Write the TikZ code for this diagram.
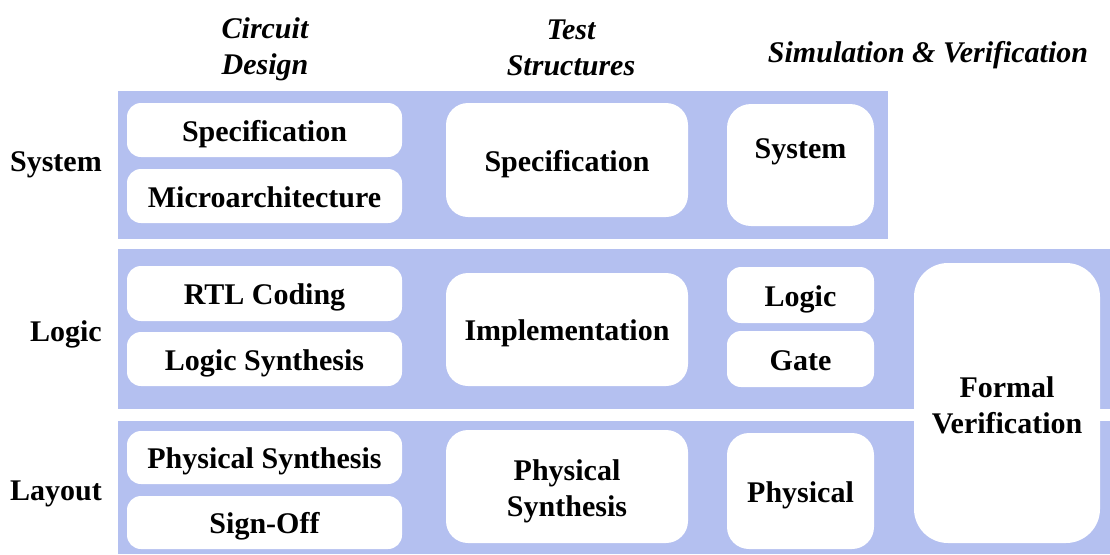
\documentclass[tikz,border=0pt]{standalone}
\usepackage{fontspec}
\setmainfont{Liberation Serif}
\definecolor{bandblue}{RGB}{180,192,240}
\tikzset{
  band/.style={fill=bandblue, draw=none},
  cell/.style={fill=white, draw=none, rounded corners=#1, inner sep=0pt,
    font=\bfseries\fontsize{30}{36}\selectfont, align=center},
  cell/.default=14pt,
  one/.style={text height=22pt, text depth=0pt},
  hdr/.style={font=\bfseries\itshape\fontsize{30}{36}\selectfont, align=center, inner sep=0pt},
  rowlbl/.style={font=\bfseries\fontsize{30}{36}\selectfont, anchor=base east, inner sep=0pt},
  txt/.style={font=\bfseries\fontsize{30}{36}\selectfont, anchor=base, inner sep=0pt}
}
\begin{document}
\begin{tikzpicture}[x=1pt, y=-1pt]
\useasboundingbox (0,0) rectangle (1110,554);

% column headings
\node[hdr] (hcd) at (265,49.5) {Circuit\\Design};
\node[hdr] (hts) at (571,48) {Test\\Structures};
\node[hdr, anchor=base] (hsv) at (928,62) {Simulation \& Verification};

% abstraction levels
\node[band, minimum width=770pt, minimum height=148pt, anchor=north west] (bsys) at (118,91) {};
\node[band, minimum width=992pt, minimum height=160pt, anchor=north west] (blog) at (118,249) {};
\node[band, minimum width=992pt, minimum height=133pt, anchor=north west] (blay) at (118,421) {};

\node[rowlbl] (lsys) at (102,171) {System};
\node[rowlbl] (llog) at (102,341) {Logic};
\node[rowlbl] (llay) at (102,500) {Layout};

% circuit design flow
\node[cell, one, minimum width=275pt, minimum height=54pt] (cdspec) at (264.5,130) {Specification};
\node[cell, one, minimum width=275pt, minimum height=54pt] (cdmicro) at (264.5,196) {Microarchitecture};
\node[cell, one, minimum width=275pt, minimum height=55pt] (cdrtl) at (264.5,293.5) {RTL Coding};
\node[cell, one, minimum width=275pt, minimum height=54pt] (cdlsyn) at (264.5,359) {Logic Synthesis};
\node[cell, one, minimum width=275pt, minimum height=53pt] (cdpsyn) at (264.5,457.5) {Physical Synthesis};
\node[cell, one, minimum width=275pt, minimum height=53pt] (cdsign) at (264.5,522.5) {Sign-Off};

% test structures
\node[cell=22pt, one, minimum width=242pt, minimum height=114pt] (tsspec) at (567,160) {Specification};
\node[cell=22pt, one, minimum width=242pt, minimum height=113pt] (tsimpl) at (567,329.5) {Implementation};
\node[cell=22pt, minimum width=242pt, minimum height=113pt] (tsphys) at (567,486.5) {};
\node[cell, inner sep=0pt] (tsphystxt) at ([yshift=-4.5pt]tsphys.center) {Physical\\Synthesis};

% simulation and verification
\node[cell=24pt, minimum width=147pt, minimum height=122pt] (svsys) at (800.5,165) {};
\node[txt] (svsystxt) at (800.5,158) {System};
\node[cell, one, minimum width=147pt, minimum height=56pt] (svlogic) at (800.5,295) {Logic};
\node[cell, one, minimum width=147pt, minimum height=56pt] (svgate) at (800.5,359) {Gate};
\node[cell=22pt, one, minimum width=147pt, minimum height=116pt] (svphys) at (800.5,491) {Physical};
\node[cell=34pt, minimum width=186pt, minimum height=280pt] (svformal) at (1007,403) {};
\node[cell, inner sep=0pt] (svformaltxt) at ([yshift=-2pt]svformal.center) {Formal\\Verification};
\end{tikzpicture}
\end{document}
